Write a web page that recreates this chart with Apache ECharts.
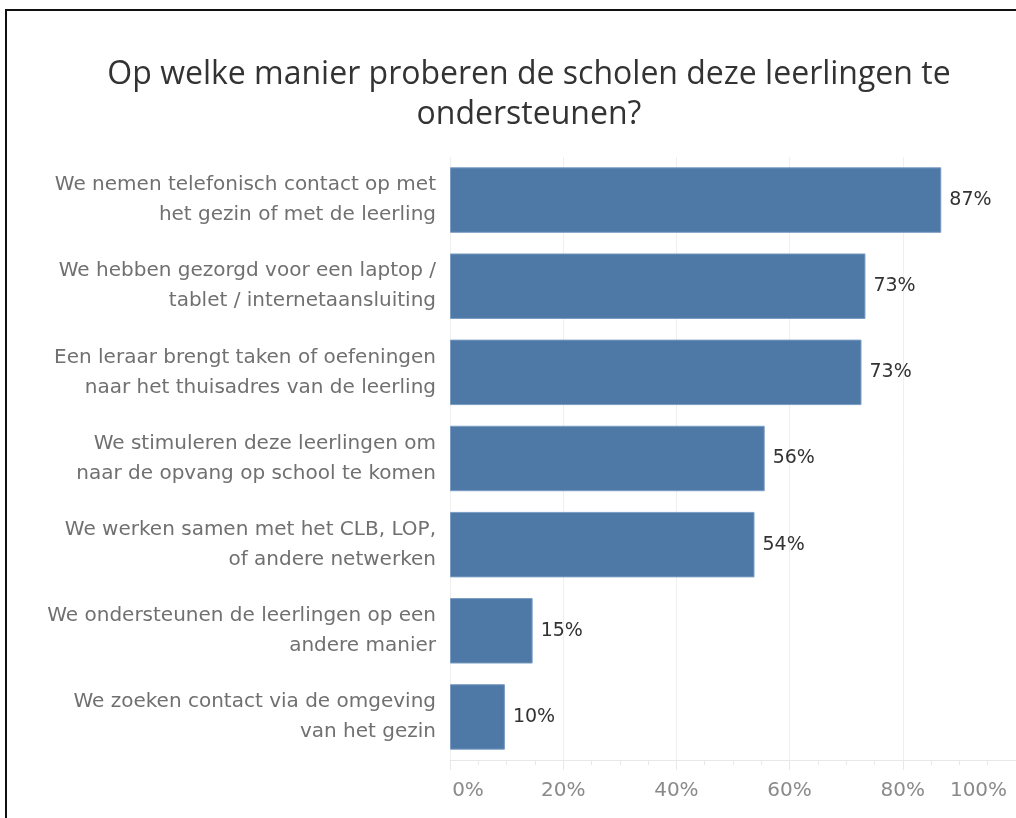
<!DOCTYPE html>
<html>
<head>
    <meta charset="utf-8">
    <title>Ondersteuning leerlingen</title>
    <script src="https://cdn.jsdelivr.net/npm/echarts@6/dist/echarts.min.js"></script>
    <style>
        html, body { margin: 0; padding: 0; background: #ffffff; }
        #chart { width: 1016px; height: 818px; }
    </style>
</head>
<body>
<div id="chart"></div>
<script>
    // categorieën (van boven naar onder)
    var categories = [
        'We nemen telefonisch contact op met\nhet gezin of met de leerling',
        'We hebben gezorgd voor een laptop /\ntablet / internetaansluiting',
        'Een leraar brengt taken of oefeningen\nnaar het thuisadres van de leerling',
        'We stimuleren deze leerlingen om\nnaar de opvang op school te komen',
        'We werken samen met het CLB, LOP,\nof andere netwerken',
        'We ondersteunen de leerlingen op een\nandere manier',
        'We zoeken contact via de omgeving\nvan het gezin'
    ];
    var values = [86.8, 73.4, 72.7, 55.6, 53.8, 14.6, 9.7];
    var xTicks = [0, 20, 40, 60, 80, 100];

    var titleFont = '"Open Sans", sans-serif';
    var labelFont = '"DejaVu Sans", sans-serif';
    var chart = echarts.init(document.getElementById('chart'));

    var option = {
        backgroundColor: '#ffffff',
        animation: false,
        title: {
            text: 'Op welke manier proberen de scholen deze leerlingen te\nondersteunen?',
            left: 524,
            top: 50,
            textAlign: 'center',
            textStyle: {
                fontFamily: titleFont,
                fontSize: 32,
                fontWeight: 'normal',
                color: '#333333',
                lineHeight: 40,
                align: 'center'
            }
        },
        graphic: [{
            type: 'rect',
            shape: { x: 6, y: 10, width: 1100, height: 900 },
            style: { fill: 'none', stroke: '#111111', lineWidth: 2 },
            silent: true
        }],
        grid: {
            left: 450,
            right: -5,
            top: 157,
            bottom: 58
        },
        xAxis: {
            type: 'value',
            min: 0,
            max: 100,
            interval: 20,
            axisLine: { show: true, lineStyle: { color: '#e8e8e8', width: 1 } },
            axisTick: { show: true, length: 10, lineStyle: { color: '#e8e8e8' } },
            minorTick: { show: true, splitNumber: 4, length: 5, lineStyle: { color: '#e8e8e8' } },
            splitLine: { show: true, lineStyle: { color: '#efefef', width: 1 } },
            axisLabel: {
                margin: 21,
                fontFamily: labelFont,
                fontSize: 20,
                color: '#8a8a8a',
                formatter: function (v) {
                    if (v === xTicks[0]) return '{l|' + v + '%}';
                    if (v === xTicks[xTicks.length - 1]) return '{r|' + v + '%}';
                    return v + '%';
                },
                rich: {
                    l: { fontFamily: labelFont, fontSize: 20, color: '#8a8a8a', padding: [0, 0, 0, 36] },
                    r: { fontFamily: labelFont, fontSize: 20, color: '#8a8a8a', padding: [0, 75, 0, 0] }
                }
            }
        },
        yAxis: {
            type: 'category',
            data: categories,
            inverse: true,
            axisLine: { show: false },
            axisTick: { show: false },
            axisLabel: {
                margin: 14,
                fontFamily: labelFont,
                fontSize: 20,
                lineHeight: 30,
                color: '#707070',
                align: 'right'
            }
        },
        series: [{
            type: 'bar',
            data: values,
            barCategoryGap: '24%',
            itemStyle: {
                color: '#4e79a7',
                borderColor: '#7a9cc2',
                borderWidth: 1
            },
            label: {
                show: true,
                position: 'right',
                distance: 8,
                fontFamily: labelFont,
                fontSize: 19,
                color: '#333333',
                formatter: function (p) {
                    return Math.round(p.value) + '%';
                }
            }
        }]
    };

    chart.setOption(option);
</script>
</body>
</html>
